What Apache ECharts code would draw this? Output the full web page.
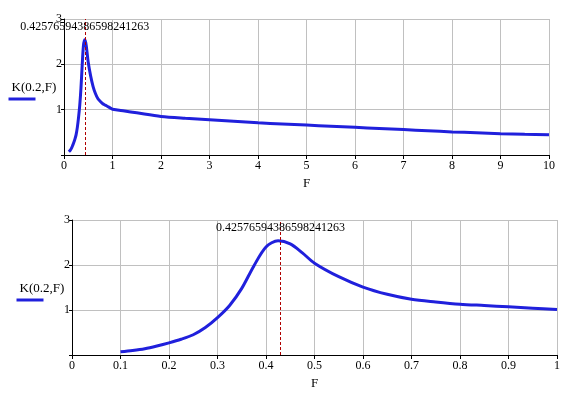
<!DOCTYPE html>
<html>
<head>
<meta charset="utf-8">
<script src="https://cdn.jsdelivr.net/npm/echarts@6/dist/echarts.min.js"></script>
<style>
  html, body { margin: 0; padding: 0; background: #fff; }
  #chart { width: 579px; height: 399px; }
</style>
</head>
<body>
<div id="chart"></div>
<script>
// values
const fTop = [0.1, 0.125, 0.15, 0.175, 0.2, 0.225, 0.25, 0.275, 0.3, 0.325, 0.35, 0.375, 0.4, 0.425, 0.45, 0.475, 0.5, 0.55, 0.6, 0.65, 0.7, 0.75, 0.8, 0.85, 0.9, 0.95, 1,
  1.25, 1.5, 2, 2.5, 3, 3.5, 4, 4.5, 5, 5.5, 6, 6.5, 7, 7.5, 8, 8.5, 9, 9.5, 10];
const kTop = [0.07, 0.10, 0.14, 0.20, 0.27, 0.35, 0.45, 0.61, 0.83, 1.10, 1.48, 1.98, 2.40, 2.54, 2.47, 2.27, 2.04, 1.74, 1.51, 1.35, 1.24, 1.18, 1.13, 1.10, 1.07, 1.04, 1.01,
  0.97, 0.93, 0.85, 0.81, 0.78, 0.745, 0.71, 0.685, 0.66, 0.635, 0.61, 0.585, 0.56, 0.535, 0.51, 0.49, 0.47, 0.455, 0.445];

const fBottom = [0.1, 0.125, 0.15, 0.175, 0.2, 0.225, 0.25, 0.275, 0.3, 0.325, 0.35, 0.375, 0.4, 0.425, 0.45, 0.475, 0.5, 0.55, 0.6, 0.65, 0.7, 0.75, 0.8, 0.85, 0.9, 0.95, 1];
const kBottom = [0.07, 0.10, 0.14, 0.20, 0.27, 0.35, 0.45, 0.61, 0.83, 1.10, 1.48, 1.98, 2.40, 2.54, 2.47, 2.27, 2.04, 1.74, 1.51, 1.35, 1.24, 1.18, 1.13, 1.10, 1.07, 1.04, 1.01];

const peakF = 0.42576594386598241263;
const peakLabel = '0.42576594386598241263';
const seriesName = 'K(0.2,F)';
const xNameText = 'F';

const topX = [0, 10, 1];     // min, max, interval
const bottomX = [0, 1, 0.1];
const yRange = [0, 3, 1];

const font = '"Liberation Serif", "Times New Roman", serif';
const blue = '#2020dc';
const gridGray = '#c0c0c0';

const chart = echarts.init(document.getElementById('chart'), null, { renderer: 'canvas' });

function xAxisFor(idx, r) {
  return {
    type: 'value', gridIndex: idx, min: r[0], max: r[1], interval: r[2],
    name: xNameText, nameLocation: 'middle', nameGap: 22,
    nameTextStyle: { fontFamily: font, fontSize: 13, color: '#000' },
    axisLine: { onZero: false, lineStyle: { color: '#000', width: 1 } },
    axisTick: { show: true, length: 4, lineStyle: { color: '#000' } },
    axisLabel: {
      fontFamily: font, fontSize: 12, color: '#000', margin: 5,
      formatter: v => String(Math.round(v * 10) / 10)
    },
    splitLine: { show: true, lineStyle: { color: gridGray, width: 1 } }
  };
}

function yAxisFor(idx) {
  return {
    type: 'value', gridIndex: idx, min: yRange[0], max: yRange[1], interval: yRange[2],
    axisLine: { show: true, lineStyle: { color: '#000', width: 1 } },
    axisTick: { show: true, length: 3, lineStyle: { color: '#000' } },
    axisLabel: {
      fontFamily: font, fontSize: 12, color: '#000', margin: 2,
      formatter: v => (v === 0 ? '' : String(v))
    },
    splitLine: { show: true, lineStyle: { color: gridGray, width: 1 } }
  };
}

function curve(idx, fs, ks) {
  return {
    type: 'line', name: seriesName, xAxisIndex: idx, yAxisIndex: idx,
    data: fs.map((f, i) => [f, ks[i]]),
    showSymbol: false, smooth: 0.3,
    lineStyle: { color: blue, width: 3 },
    itemStyle: { color: blue },
    markLine: {
      silent: true, symbol: 'none', animation: false,
      lineStyle: { color: '#b00000', type: [3, 2], width: 1 },
      label: {
        show: true, position: 'end', distance: -14,
        formatter: peakLabel, fontFamily: font, fontSize: 12, color: '#000'
      },
      data: [{ xAxis: peakF }]
    }
  };
}

function legendMark(cx, cy) {
  return [
    {
      type: 'text', x: cx, y: cy,
      style: { text: seriesName, font: '13px ' + font, fill: '#000', textAlign: 'center', textVerticalAlign: 'middle' }
    },
    {
      type: 'rect', shape: { x: cx - 25.5, y: cy + 9.5, width: 27, height: 3 },
      style: { fill: blue }
    }
  ];
}

chart.setOption({
  animation: false,
  backgroundColor: '#fff',
  grid: [
    { left: 64, top: 19, width: 485, height: 136 },
    { left: 72, top: 220, width: 485, height: 135 }
  ],
  xAxis: [xAxisFor(0, topX), xAxisFor(1, bottomX)],
  yAxis: [yAxisFor(0), yAxisFor(1)],
  series: [curve(0, fTop, kTop), curve(1, fBottom, kBottom)],
  graphic: [...legendMark(34, 88), ...legendMark(42, 289)]
});
</script>
</body>
</html>
